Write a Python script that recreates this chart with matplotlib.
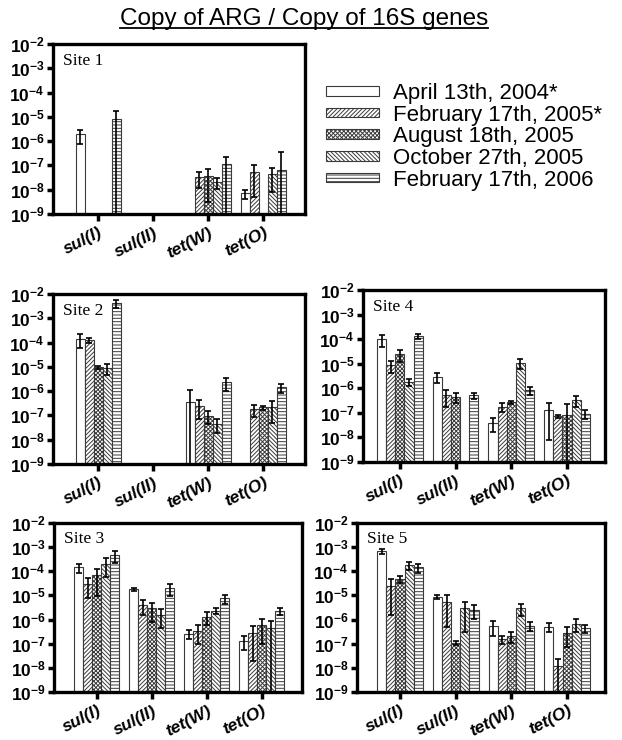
import numpy as np
import matplotlib
matplotlib.use("Agg")
import matplotlib.pyplot as plt
from matplotlib.lines import Line2D

plt.rcParams["font.family"] = ["Liberation Sans", "DejaVu Sans"]
plt.rcParams["mathtext.fontset"] = "custom"
plt.rcParams["mathtext.rm"] = "Liberation Sans:bold"
plt.rcParams["mathtext.bf"] = "Liberation Sans:bold"
plt.rcParams["hatch.linewidth"] = 0.7

genes = ["sul(I)", "sul(II)", "tet(W)", "tet(O)"]
dates = ["April 13th, 2004*", "February 17th, 2005*", "August 18th, 2005",
         "October 27th, 2005", "February 17th, 2006"]
nan = np.nan

# values[site] -> rows = dates, columns = genes (nan = not detected)
site1_vals = [[1.9e-6, nan, nan, 7.1e-9],
              [nan, nan, 3.2e-8, 5.5e-8],
              [nan, nan, 3.8e-8, nan],
              [nan, nan, 2.1e-8, 4.3e-8],
              [8.0e-6, nan, 1.1e-7, 6.3e-8]]
site1_err = [[1.1e-6, nan, nan, 3e-9],
             [nan, nan, 2e-8, 5e-8],
             [nan, nan, 3.5e-8, nan],
             [nan, nan, 1e-8, 3.5e-8],
             [1.0e-5, nan, 1.2e-7, 2.8e-7]]

site2_vals = [[1.4e-4, nan, 3.7e-7, nan],
              [1.28e-4, nan, 2.5e-7, 1.78e-7],
              [9.5e-6, nan, 9.5e-8, 2.15e-7],
              [8.7e-6, nan, 4.4e-8, 2.3e-7],
              [4.1e-3, nan, 2.3e-6, 1.44e-6]]
site2_err = [[8e-5, nan, 7e-7, nan],
             [3e-5, nan, 1.8e-7, 9e-8],
             [1e-6, nan, 5e-8, 4e-8],
             [4e-6, nan, 2.5e-8, 1.8e-7],
             [1.5e-3, nan, 1.3e-6, 6e-7]]

site4_vals = [[9.8e-5, 2.9e-6, 3.9e-8, 1.28e-7],
              [8.7e-6, 5.2e-7, 1.75e-7, 7.3e-8],
              [2.45e-5, 4.5e-7, 2.7e-7, 7.9e-8],
              [1.8e-6, nan, 1.1e-5, 3.3e-7],
              [1.33e-4, 5.2e-7, 8.4e-7, 9.3e-8]]
site4_err = [[5e-5, 1.3e-6, 2.3e-8, 1.2e-7],
             [4.5e-6, 3.5e-7, 7e-8, 1e-8],
             [1.3e-5, 2e-7, 3e-8, 1.45e-7],
             [6e-7, nan, 5e-6, 1.5e-7],
             [3.5e-5, 1.5e-7, 3e-7, 3.5e-8]]

site3_vals = [[1.44e-4, 1.83e-5, 2.55e-7, 1.35e-7],
              [2.95e-5, 4.0e-6, 3.5e-7, 2.9e-7],
              [6.9e-5, 2.9e-6, 1.32e-6, 6.0e-7],
              [2.0e-4, 1.56e-6, 2.3e-6, 4.4e-7],
              [4.6e-4, 1.95e-5, 7.6e-6, 2.3e-6]]
site3_err = [[6e-5, 2.5e-6, 1e-7, 8e-8],
             [2.2e-5, 2.5e-6, 2.5e-7, 2.7e-7],
             [6e-5, 2.1e-6, 7e-7, 5e-7],
             [1.4e-4, 1.1e-6, 6.5e-7, 4.5e-7],
             [2.3e-4, 1e-5, 3e-6, 8e-7]]

site5_vals = [[6.8e-4, 8.9e-6, 5.6e-7, 5.1e-7],
              [2.45e-5, 5.5e-6, 1.55e-7, 1.15e-8],
              [5.0e-5, 1.05e-7, 2.1e-7, 2.7e-7],
              [1.78e-4, 2.9e-6, 2.9e-6, 6.6e-7],
              [1.44e-4, 2.5e-6, 5.6e-7, 4.4e-7]]
site5_err = [[1.7e-4, 1.8e-6, 3.5e-7, 2e-7],
             [2.3e-5, 5e-6, 5.5e-8, 1.2e-8],
             [1.6e-5, 2e-8, 1e-7, 2e-7],
             [7e-5, 2.6e-6, 1.5e-6, 3.6e-7],
             [6e-5, 1.4e-6, 2.2e-7, 1.6e-7]]

hatches = ["", "////////", "xxxxxxxx", "\\\\\\\\\\\\\\\\", "-----"]

fig = plt.figure(figsize=(6.22, 7.40), dpi=100)

# name, values, errors, [left, bottom, width, height], xlim
panels = [
    ("Site 1", site1_vals, site1_err, [0.0852, 0.7108, 0.405, 0.2297], (-0.82, 3.76)),
    ("Site 2", site2_vals, site2_err, [0.0852, 0.373, 0.405, 0.2297], (-0.82, 3.76)),
    ("Site 4", site4_vals, site4_err, [0.5836, 0.3757, 0.389, 0.2324], (-0.66, 3.68)),
    ("Site 3", site3_vals, site3_err, [0.0868, 0.0649, 0.3987, 0.2284], (-0.78, 3.73)),
    ("Site 5", site5_vals, site5_err, [0.574, 0.0649, 0.3987, 0.2284], (-0.77, 3.68)),
]

x = np.arange(len(genes))
w = 0.164
handles = []
for name, vals, errs, rect, xl in panels:
    ax = fig.add_axes(rect)
    hs = []
    for i, d in enumerate(dates):
        pos = x + (i - 2) * w
        b = ax.bar(pos, vals[i], width=w, color="white", edgecolor="#3a3a3a",
                   linewidth=0.8, hatch=hatches[i], label=d)
        ax.errorbar(pos, vals[i], yerr=errs[i], fmt="none", ecolor="black",
                    elinewidth=1.2, capsize=2.5, capthick=1.2)
        hs.append(b)
    if not handles:
        handles = hs
    ax.set_yscale("log")
    ax.set_ylim(1e-9, 1e-2)
    ax.set_xlim(*xl)
    ax.set_yticks([10.0 ** k for k in range(-9, -1)])
    ax.set_yticklabels([r"$\mathbf{10^{%d}}$" % k for k in range(-9, -1)], fontsize=12.5)
    ax.minorticks_off()
    ax.set_xticks(x)
    ax.set_xticklabels(genes, rotation=27, ha="right", rotation_mode="anchor",
                       fontsize=12.5, fontweight="bold", fontstyle="italic")
    ax.tick_params(axis="both", direction="out", length=4, width=2.5, pad=2)
    ax.tick_params(axis="x", length=5, pad=3)
    for s in ax.spines.values():
        s.set_linewidth(2.4)
    ax.text(0.04, 0.95, name, transform=ax.transAxes, va="top", ha="left",
            fontsize=12.5, family="Liberation Serif")

fig.legend(handles, dates, loc="upper left", bbox_to_anchor=(0.51, 0.9),
           frameon=False, fontsize=16, handlelength=2.4, handleheight=0.28,
           labelspacing=0.03, handletextpad=0.6, borderaxespad=0)

title = fig.text(0.489, 0.975, "Copy of ARG / Copy of 16S genes", ha="center",
                 va="center", fontsize=17.5)
fig.canvas.draw()
bb = title.get_window_extent(fig.canvas.get_renderer()).transformed(fig.transFigure.inverted())
fig.add_artist(Line2D([bb.x0, bb.x1], [bb.y0 + 0.002, bb.y0 + 0.002],
                      transform=fig.transFigure, color="black", linewidth=1.3))

fig.savefig("out.png", dpi=100)
